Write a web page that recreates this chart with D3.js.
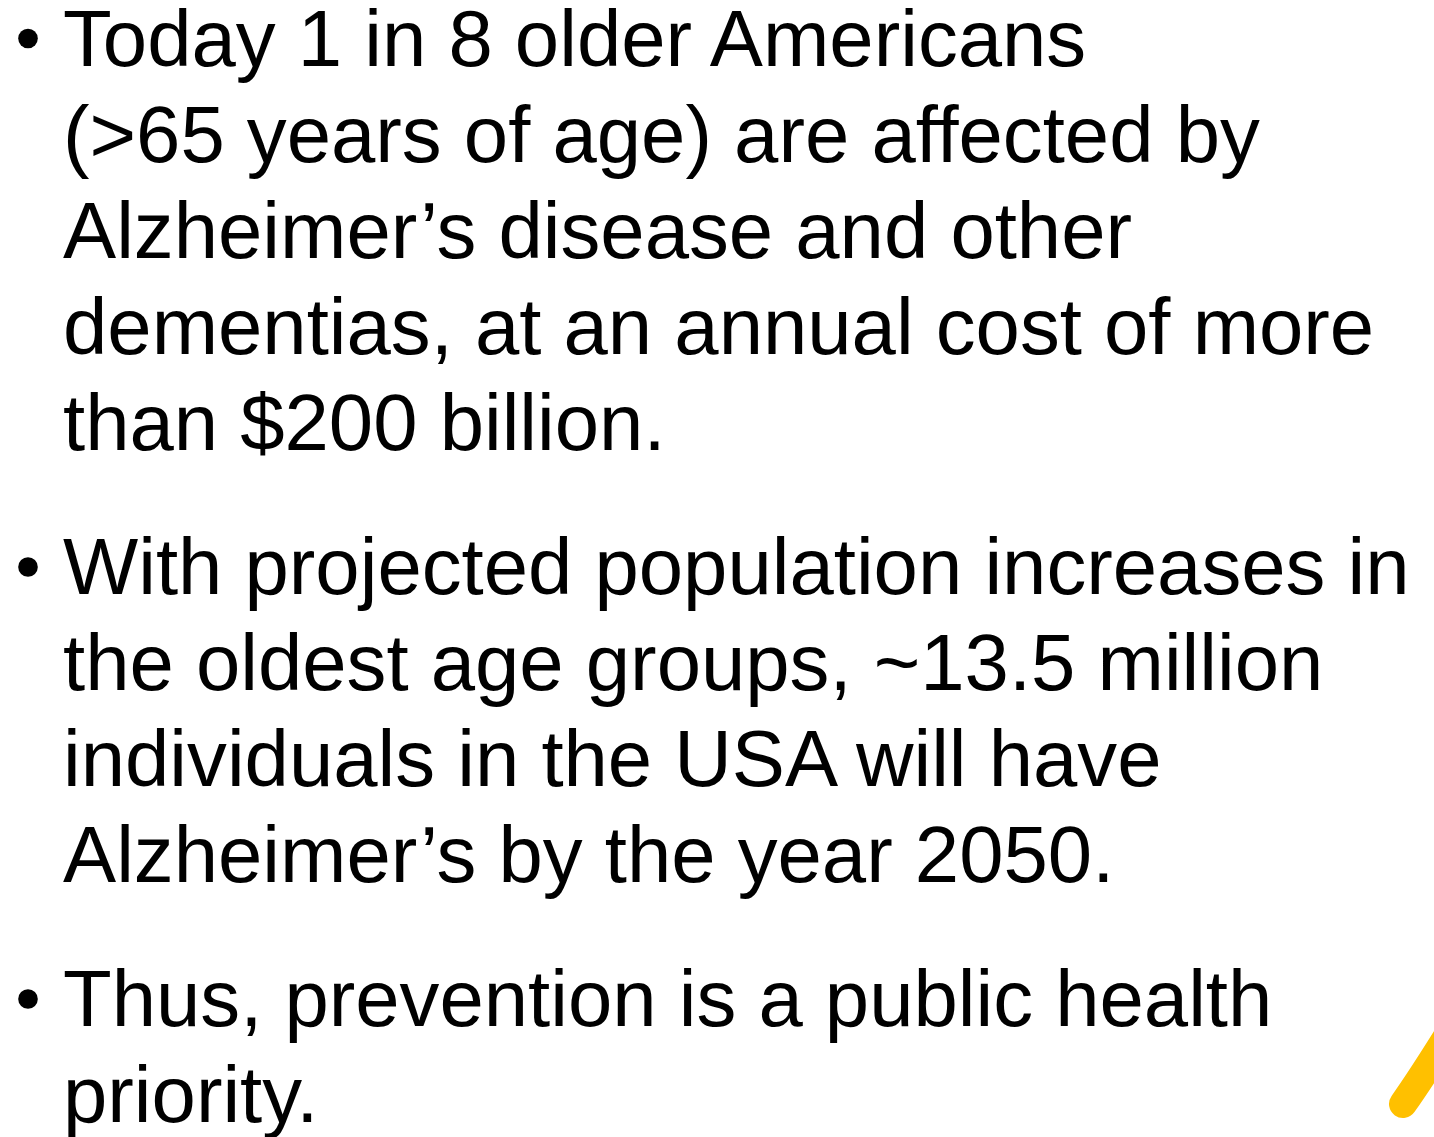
<!DOCTYPE html>
<html>
<head>
  <title>Alzheimer's slide</title>
  <style>
    body {
      margin: 0;
      background: #ffffff;
      overflow: hidden;
    }
    svg text {
      font-family: "Liberation Sans", Arial, sans-serif;
      fill: #000000;
    }
  </style>
</head>
<body>
  <svg id="slide"></svg>

  <script src="https://d3js.org/d3.v7.min.js"></script>
  <script>
    // Slide text, one array per bullet, one entry per line
    const bullet1 = [
      "Today 1 in 8 older Americans",
      "(>65 years of age) are affected by",
      "Alzheimer\u2019s disease and other",
      "dementias, at an annual cost of more",
      "than $200 billion."
    ];
    const bullet2 = [
      "With projected population increases in",
      "the oldest age groups, ~13.5 million",
      "individuals in the USA will have",
      "Alzheimer\u2019s by the year 2050."
    ];
    const bullet3 = [
      "Thus, prevention is a public health",
      "priority."
    ];
    const bullets = [bullet1, bullet2, bullet3];
    // first baseline of each bullet
    const bulletStarts = [65.5, 594, 1026];

    const width = 1434;
    const height = 1137;
    const fontSize = 79.7;
    const linePitch = 96;

    const svg = d3.select("#slide")
      .attr("width", width)
      .attr("height", height);

    // line index -> baseline offset
    const lineY = d3.scaleLinear()
      .domain([0, 1])
      .range([0, linePitch]);

    const groups = svg.selectAll(".bullet")
      .data(bullets)
      .enter().append("g")
      .attr("class", "bullet")
      .attr("transform", (d, i) => "translate(0," + bulletStarts[i] + ")");

    // bullet dot
    groups.append("circle")
      .attr("cx", 28)
      .attr("cy", -27)
      .attr("r", 9.8)
      .attr("fill", "#000");

    groups.selectAll("text")
      .data(d => d)
      .enter().append("text")
      .attr("x", 63)
      .attr("y", (d, i) => lineY(i))
      .style("font-size", fontSize + "px")
      .text(d => d);

    // yellow brush stroke in the corner
    svg.append("path")
      .attr("d", "M1403,1104 Q1420,1080 1445,1040")
      .attr("fill", "none")
      .attr("stroke", "#FFC000")
      .attr("stroke-width", 28)
      .attr("stroke-linecap", "round");
  </script>
</body>
</html>
